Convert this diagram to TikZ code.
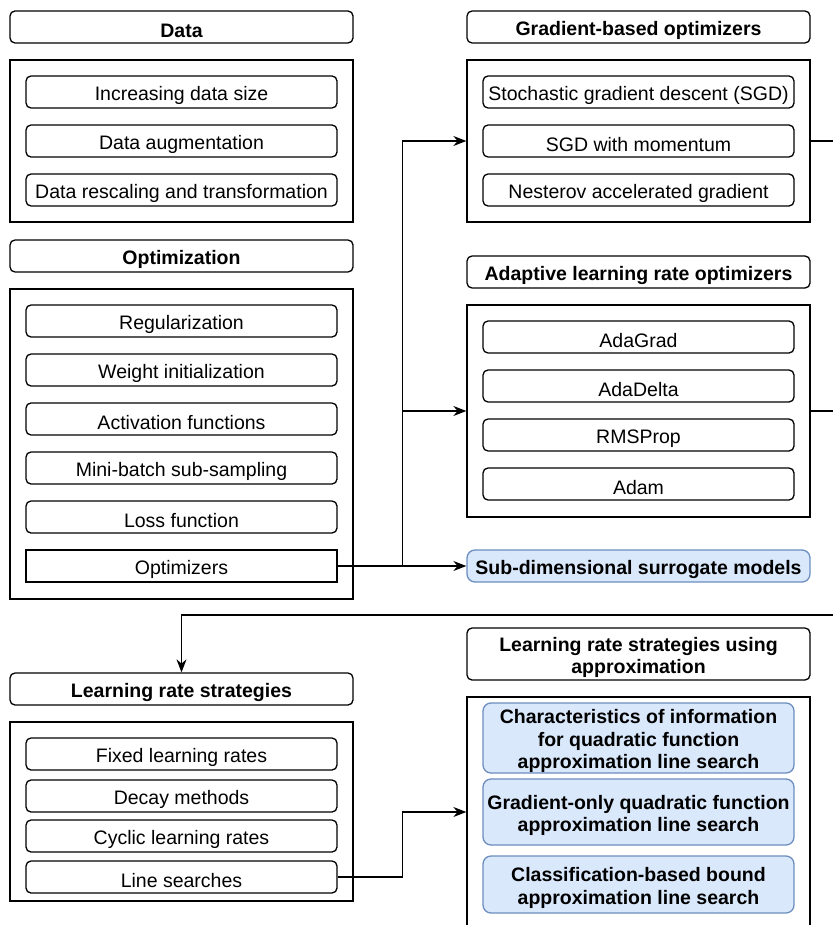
\documentclass[tikz,border=0pt]{standalone}
\usepackage{fontspec}
\setmainfont{Liberation Sans}
\usetikzlibrary{arrows.meta}
\definecolor{bfill}{HTML}{DAE8FC}
\definecolor{bline}{HTML}{6C8EBF}
\newcommand\mybox[7]{\node[#1, minimum width={#5-#3}, minimum height={#6-#4}] (#2) at ({(#3+#5)/2},{(#4+#6)/2}) {#7};}
\newcommand\firstln{\rule{0pt}{21pt}}
\begin{document}
\begin{tikzpicture}[x=1pt,y=-1pt,
  every node/.style={font=\fontsize{19.5}{22.5}\selectfont, inner sep=0pt, align=center, line width=1.3pt},
  hdr/.style={draw, rounded corners=5pt, font=\fontsize{19.5}{22.5}\selectfont\bfseries},
  outer/.style={draw},
  item/.style={draw, rounded corners=5pt},
  sqitem/.style={draw},
  blue/.style={draw=bline, fill=bfill, rounded corners=8pt, font=\fontsize{19.5}{22.5}\selectfont\bfseries},
  conn/.style={line width=1.3pt, -{Stealth[length=13pt,width=10pt]}},
  plain/.style={line width=1.3pt}]
\useasboundingbox (0,0) rectangle (833,925);
\clip (0,0) rectangle (833,925);
% left column
\mybox{hdr}{datah}{10}{11}{353}{43}{\firstln Data}
\mybox{outer}{datao}{10}{60}{353}{222}{}
\mybox{item}{d1}{26}{76}{337}{108}{\firstln Increasing data size}
\mybox{item}{d2}{26}{125}{337}{157}{\firstln Data augmentation}
\mybox{item}{d3}{26}{174}{337}{206}{\firstln Data rescaling and transformation}
\mybox{hdr}{opth}{10}{240}{353}{272}{\firstln Optimization}
\mybox{outer}{opto}{10}{289}{353}{599}{}
\mybox{item}{o1}{26}{305}{337}{337}{\firstln Regularization}
\mybox{item}{o2}{26}{354}{337}{386}{\firstln Weight initialization}
\mybox{item}{o3}{26}{403}{337}{435}{\firstln Activation functions}
\mybox{item}{o4}{26}{452}{337}{484}{\firstln Mini-batch sub-sampling}
\mybox{item}{o5}{26}{501}{337}{533}{\firstln Loss function}
\mybox{sqitem}{opt}{26}{550}{337}{582}{\firstln Optimizers}
\mybox{hdr}{lrsh}{10}{673}{353}{705}{\firstln Learning rate strategies}
\mybox{outer}{lrso}{10}{722}{353}{901}{}
\mybox{item}{l1}{26}{738}{337}{770}{\firstln Fixed learning rates}
\mybox{item}{l2}{26}{780}{337}{812}{\firstln Decay methods}
\mybox{item}{l3}{26}{820}{337}{852}{\firstln Cyclic learning rates}
\mybox{item}{ls}{26}{861}{337}{893}{\firstln Line searches}
% right column
\mybox{hdr}{gboh}{467}{11}{810}{43}{\firstln Gradient-based optimizers}
\mybox{outer}{gbo}{467}{60}{810}{222}{}
\mybox{item}{g1}{483}{76}{794}{108}{\firstln Stochastic gradient descent (SGD)}
\mybox{item}{g2}{483}{125}{794}{157}{\firstln SGD with momentum}
\mybox{item}{g3}{483}{174}{794}{206}{\firstln Nesterov accelerated gradient}
\mybox{hdr}{aloh}{467}{256}{810}{288}{\firstln Adaptive learning rate optimizers}
\mybox{outer}{alo}{467}{305}{810}{517}{}
\mybox{item}{a1}{483}{321}{794}{353}{\firstln AdaGrad}
\mybox{item}{a2}{483}{370}{794}{402}{\firstln AdaDelta}
\mybox{item}{a3}{483}{419}{794}{451}{\firstln RMSProp}
\mybox{item}{a4}{483}{468}{794}{500}{\firstln Adam}
\mybox{blue}{sdsm}{467}{550}{810}{582}{\firstln Sub-dimensional surrogate models}
\mybox{hdr}{apph}{467}{628}{810}{680}{\firstln Learning rate strategies using\\approximation}
\mybox{outer}{appo}{467}{697}{810}{940}{}
\mybox{blue}{b1}{483}{705}{794}{771}{\firstln Characteristics of information\\for quadratic function\\approximation line search}
\mybox{blue}{b2}{483}{779}{794}{845}{\firstln Gradient-only quadratic function\\approximation line search}
\mybox{blue}{b3}{483}{856}{794}{913}{\firstln Classification-based bound\\approximation line search}
% connectors
\coordinate (r1) at (833,141);
\coordinate (r2) at (833,411);
\coordinate (r3) at (833,615);
\draw[conn] (opt.east) -- (sdsm.west);
\draw[conn] (opt.east) -- ++(65,0) |- (gbo.west);
\draw[conn] (opt.east) -- ++(65,0) |- (alo.west);
\draw[plain] (gbo.east) -- (r1);
\draw[plain] (alo.east) -- (r2);
\draw[conn] (r3) -| (lrsh.north);
\draw[conn] (ls.east) -- ++(65,0) |- (b2.center -| appo.west);
\end{tikzpicture}
\end{document}
